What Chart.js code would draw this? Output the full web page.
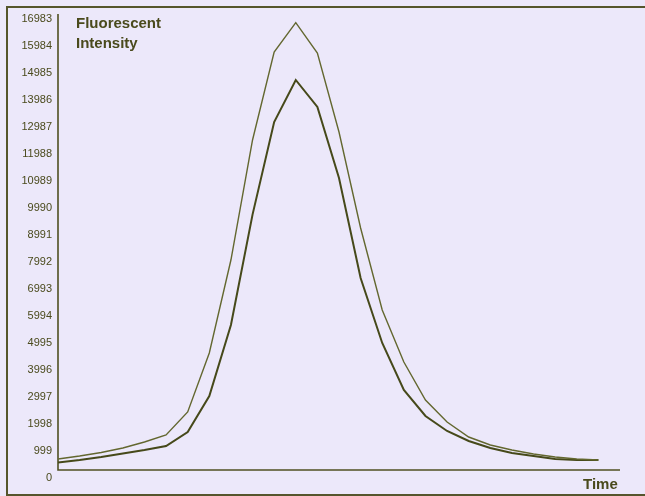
<!DOCTYPE html>
<html>
<head>
<meta charset="utf-8">
<script src="https://cdn.jsdelivr.net/npm/chart.js@4/dist/chart.umd.min.js"></script>
<style>
  html, body { margin: 0; padding: 0; background: rgb(236,232,250); }
  #wrap { position: relative; width: 645px; height: 496px; overflow: hidden; }
  #frame { position: absolute; left: 6px; top: 6px; width: 700px; height: 486px;
           border-left: 2px solid #55552c; border-top: 2px solid #55552c; border-bottom: 2px solid #55552c; }
  canvas { position: absolute; left: 0; top: 0; }
  .lbl { position: absolute; font-family: "Liberation Sans", Arial, sans-serif; font-weight: bold;
         font-size: 15px; color: #4a4a1c; line-height: 20px; }
  #ttl { left: 76px; top: 13px; }
  #xl { left: 583px; top: 474px; }
</style>
</head>
<body>
<div id="wrap">
  <div id="frame"></div>
  <canvas id="c" width="645" height="496"></canvas>
  <div class="lbl" id="ttl">Fluorescent<br>Intensity</div>
  <div class="lbl" id="xl">Time</div>
</div>
<script>
// ---- data ----
const timePoints = [0,1,2,3,4,5,6,7,8,9,10,11,12,13,14,15,16,17,18,19,20,21,22,23,24,25];
const upperSeries = [407,518,648,814,1036,1295,2150,4329,7770,12210,15466,16550,15429,12506,8954,5920,3996,2590,1776,1221,925,740,592,481,407,370];
const lowerSeries = [278,370,481,611,740,888,1406,2738,5365,9450,12876,14430,13431,10804,7104,4699,2960,1998,1443,1073,814,629,518,407,370,370];
const tickLabels = [0,999,1998,2997,3996,4995,5994,6993,7992,8991,9990,10989,11988,12987,13986,14985,15984,16983];

const ink = '#4a4a1c';

const axisLines = {
  id: 'axisLines',
  beforeDatasetsDraw(chart) {
    const ctx = chart.ctx, a = chart.chartArea, yd = chart.scales.yd;
    const y0 = yd.getPixelForValue(0);
    ctx.save();
    ctx.strokeStyle = '#4f4f22';
    ctx.lineWidth = 1.6;
    ctx.beginPath();
    ctx.moveTo(a.left, a.top - 5);
    ctx.lineTo(a.left, y0);
    ctx.lineTo(a.right, y0);
    ctx.stroke();
    ctx.restore();
  }
};

new Chart(document.getElementById('c'), {
  type: 'line',
  data: {
    datasets: [
      { data: timePoints.map((t,i)=>({x:t, y:upperSeries[i]})), borderColor: '#63672f', borderWidth: 1.4, pointRadius: 0, tension: 0, yAxisID: 'yd' },
      { data: timePoints.map((t,i)=>({x:t, y:lowerSeries[i]})), borderColor: '#46491a', borderWidth: 2, pointRadius: 0, tension: 0, yAxisID: 'yd' }
    ]
  },
  options: {
    responsive: false,
    animation: false,
    devicePixelRatio: 1,
    layout: { padding: { left: 0, top: 19, right: 25, bottom: 18 } },
    plugins: { legend: { display: false }, tooltip: { enabled: false } },
    scales: {
      x: { type: 'linear', min: 0, max: 26, display: false },
      y: {
        type: 'linear', position: 'left', min: 0, max: 16983,
        afterBuildTicks: (s) => { s.ticks = tickLabels.map(v => ({ value: v })); },
        afterFit: (s) => { s.width = 58; },
        grid: { display: false, drawTicks: false },
        border: { display: false },
        ticks: { padding: 6, color: ink, font: { family: '"Liberation Sans", Arial, sans-serif', size: 11 },
                 callback: (v) => String(v), autoSkip: false }
      },
      yd: { type: 'linear', display: false, min: -296, max: 16687 }
    }
  },
  plugins: [axisLines]
});
</script>
</body>
</html>
